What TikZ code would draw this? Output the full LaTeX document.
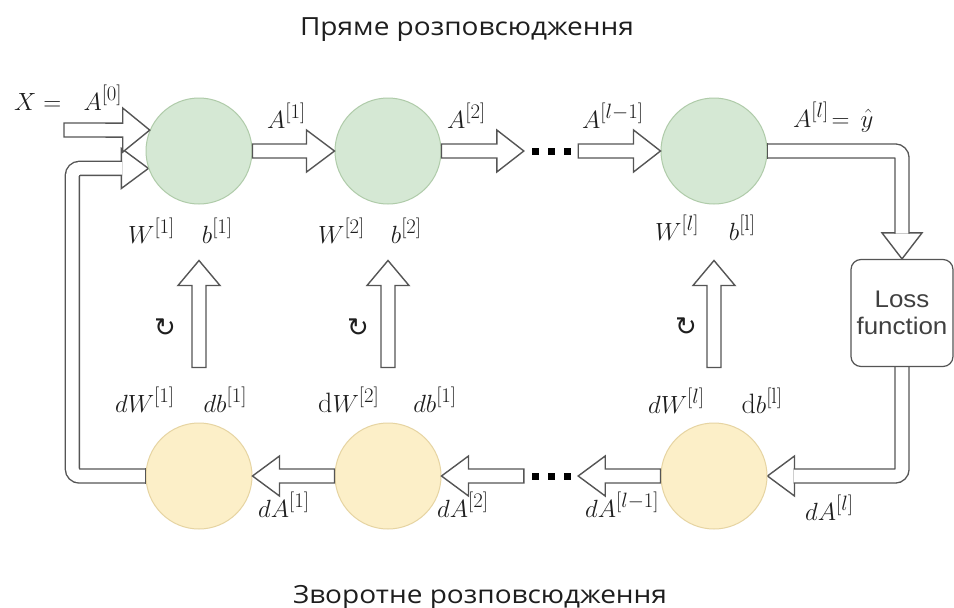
\documentclass[tikz,border=0pt]{standalone}
\usepackage{fontspec}
\usetikzlibrary{calc}
\newfontfamily\titlefont[FakeStretch=1.12]{Open Sans}
\newfontfamily\lossfont[FakeStretch=1.08]{Liberation Sans}
\newfontfamily\symfont{DejaVu Sans}

\definecolor{greenfill}{HTML}{D5E8D4}
\definecolor{greenline}{HTML}{AFCBA9}
\definecolor{yellowfill}{HTML}{FCEFC8}
\definecolor{yellowline}{HTML}{E6D4A2}
\definecolor{arrowline}{HTML}{555555}
\definecolor{labeltext}{HTML}{1E1E1E}

% larger scripts for the big labels
\DeclareMathSizes{28}{28}{22}{17}

\pgfdeclarelayer{paper}
\pgfdeclarelayer{back}
\pgfsetlayers{paper,back,main}

% hollow straight block arrow: tail point, tip point, head half-width, head length
\newcommand\hollowarrow[4]{%
  \path (#1) coordinate (ha-t) (#2) coordinate (ha-h);
  \path ($(ha-h)!#4!(ha-t)$) coordinate (ha-b);
  \draw[blockarrow]
    ($(ha-t)!7pt!90:(ha-h)$) -- ($(ha-b)!7pt!90:(ha-h)$) --
    ($(ha-b)!#3!90:(ha-h)$) -- (ha-h) -- ($(ha-b)!#3!-90:(ha-h)$) --
    ($(ha-b)!7pt!-90:(ha-h)$) -- ($(ha-t)!7pt!-90:(ha-h)$) -- cycle;
}
% hollow arrow head only: base centre, tip, half-width
\newcommand\hollowhead[3]{%
  \path (#1) coordinate (hh-b) (#2) coordinate (hh-h);
  \draw[blockarrow]
    ($(hh-b)!#3!90:(hh-h)$) -- (hh-h) -- ($(hh-b)!#3!-90:(hh-h)$) -- cycle;
}

\begin{document}
\begin{tikzpicture}[x=1pt,y=-1pt,
  greennode/.style={circle, minimum size=106pt, inner sep=0pt, fill=greenfill, draw=greenline, line width=1pt},
  yellownode/.style={circle, minimum size=106pt, inner sep=0pt, fill=yellowfill, draw=yellowline, line width=1pt},
  mathlbl/.style={inner sep=0pt, anchor=base west, font=\fontsize{28}{32}\selectfont, text=labeltext},
  rotlbl/.style={inner sep=0pt, font=\symfont\fontsize{26}{30}\selectfont, text=labeltext},
  titlelbl/.style={inner sep=0pt, anchor=base, font=\titlefont\fontsize{25}{30}\selectfont, text=labeltext},
  dotsnode/.style={inner sep=0pt, minimum width=54pt, minimum height=8pt},
  lossbox/.style={draw=arrowline, fill=white, line width=1.2pt, rounded corners=10pt,
    minimum width=102pt, minimum height=107pt, inner sep=0pt, align=center,
    font=\lossfont\fontsize{24}{27}\selectfont, text=labeltext!85},
  blockarrow/.style={draw=arrowline, fill=white, line width=1.4pt, line join=miter},
  shaft/.style={draw=arrowline, line width=1.4pt, double=white, double distance=12.6pt, rounded corners=7pt},
  tailline/.style={draw=arrowline, line width=1.4pt}
]
\begin{pgfonlayer}{paper}
  \fill[white] (0,0) rectangle (954,608);
\end{pgfonlayer}
\useasboundingbox (0,0) rectangle (954,608);

% titles
\node[titlelbl] (fwdtitle) at (467,35) {Пряме розповсюдження};
\node[titlelbl] (bwdtitle) at (480,603) {Зворотне розповсюдження};

% forward layer nodes
\node[greennode] (g1) at (199,151) {};
\node[greennode] (g2) at (388,151) {};
\node[greennode] (g3) at (714,151) {};
% backward layer nodes
\node[yellownode] (y1) at (199,476) {};
\node[yellownode] (y2) at (388,476) {};
\node[yellownode] (y3) at (714,476) {};

% loss
\node[lossbox] (loss) at (902,313) {Loss\\function};

% ellipsis between layers
\newcommand\dotsq{\rule{7pt}{7pt}}
\node[dotsnode] (dotsT) at (551,151) {\dotsq\hspace{9pt}\dotsq\hspace{9pt}\dotsq};
\node[dotsnode] (dotsB) at (551,476) {\dotsq\hspace{9pt}\dotsq\hspace{9pt}\dotsq};

% input point
\coordinate (xin) at (64,130);

% forward arrows
\hollowarrow{xin}{g1.157}{22pt}{27pt}
\hollowarrow{g1.east}{g2.west}{21pt}{28pt}
\hollowarrow{g2.east}{dotsT.west}{21pt}{27pt}
\hollowarrow{dotsT.east}{g3.west}{21pt}{27pt}

% backward arrows
\hollowarrow{y2.west}{y1.east}{20pt}{27pt}
\hollowarrow{dotsB.west}{y2.east}{20pt}{27pt}
\hollowarrow{y3.west}{dotsB.east}{20pt}{27pt}

% parameter update arrows
\foreach \i in {1,2,3}{
  \coordinate (up\i-from) at ($(y\i.north)+(0,-55)$);
  \coordinate (up\i-to) at ($(g\i.south)+(0,56)$);
  \hollowarrow{up\i-from}{up\i-to}{21pt}{25pt}
}

% bent connectors (heads first, then the shafts that open into them)
\begin{pgfonlayer}{back}
  \hollowhead{$(loss.north)+(0,-26)$}{loss.north}{20pt}
  \draw[shaft] (g3.east) -| ($(loss.north)+(0,-25.2)$);
  \hollowhead{$(y3.east)+(27,0)$}{y3.east}{20pt}
  \draw[shaft] (loss.center) |- ($(y3.east)+(26.2,0)$);
  \hollowhead{$(g1.199)+(-27,0)$}{g1.199}{20pt}
  \draw[shaft] (y1.west) -| ($(g1.199)+(-76,0)$) -- ($(g1.199)+(-26.2,0)$);
\end{pgfonlayer}
\draw[tailline] ($(g3.east)+(0,-7.7)$) -- ($(g3.east)+(0,7.7)$);
\draw[tailline] ($(y1.west)+(0,-7.7)$) -- ($(y1.west)+(0,7.7)$);

% forward labels
\node[mathlbl] (lx)  at (14,110)  {$X = \hspace{0.55em} A^{[0]}$};
\node[mathlbl] (la1) at (267,128) {$A^{[1]}$};
\node[mathlbl] (la2) at (447,128) {$A^{[2]}$};
\node[mathlbl] (lal1) at (582,128) {$A^{[l-1]}$};
\node[mathlbl] (lal) at (793,127) {$A^{[l]}\!=\,\hat{y}$};

% parameter labels
\node[mathlbl] (lw1) at (128,243) {$W^{[1]}\hspace{27pt}b^{[1]}$};
\node[mathlbl] (lw2) at (318,243) {$W^{[2]}\hspace{26pt}b^{[2]}$};
\node[mathlbl] (lw3) at (655,240) {$W^{[l]}\hspace{30pt}b^{[\mathrm{l}]}$};

% gradient labels
\node[mathlbl] (ldw1) at (115,412) {$dW^{[1]}\hspace{29pt}db^{[1]}$};
\node[mathlbl] (ldw2) at (318,412) {$\mathrm{d}W^{[2]}\hspace{34pt}db^{[1]}$};
\node[mathlbl] (ldw3) at (648,413) {$dW^{[l]}\hspace{37pt}\mathrm{d}b^{[\mathrm{l}]}$};

\node[mathlbl] (lda1) at (258,517) {$dA^{[1]}$};
\node[mathlbl] (lda2) at (437,517) {$dA^{[2]}$};
\node[mathlbl] (lda3) at (585,517) {$dA^{[l-1]}$};
\node[mathlbl] (lda4) at (805,520) {$dA^{[l]}$};

% update symbols
\node[rotlbl] (rot1) at (165,328) {↻};
\node[rotlbl] (rot2) at (358,328) {↻};
\node[rotlbl] (rot3) at (686,327) {↻};
\end{tikzpicture}
\end{document}
